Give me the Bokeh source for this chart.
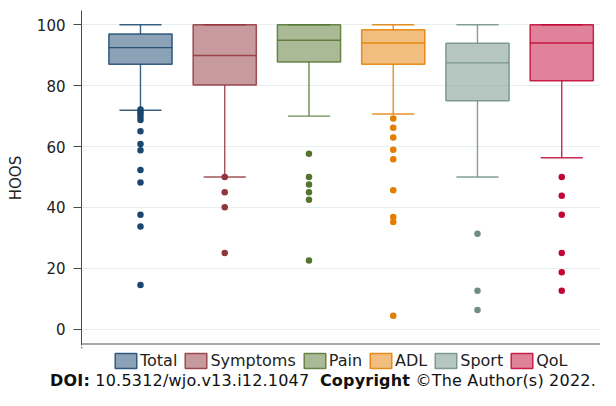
import numpy as np
from bokeh.plotting import figure
from bokeh.models import (Range1d, FixedTicker, Legend, LegendItem,
                          ColumnDataSource, Div, Span)
from bokeh.layouts import column
from bokeh.embed import file_html
from bokeh.resources import INLINE

# ---------------- data ----------------
categories = ["Total", "Symptoms", "Pain", "ADL", "Sport", "QoL"]
upper_whisker = [100, 100, 100, 100, 100, 100]
q3 = [97.0, 100, 100, 98.4, 93.9, 100]
median = [92.5, 89.9, 94.9, 94.0, 87.5, 94.0]
q1 = [87.0, 80.2, 87.8, 87.0, 75.0, 81.6]
lower_whisker = [71.9, 50.0, 70.0, 70.7, 50.0, 56.3]

total_outliers = [72.2, 71.5, 70.8, 69.8, 68.7, 65.0, 60.8, 58.8, 52.3, 48.2, 37.6, 33.7, 14.5]
symptoms_outliers = [50.0, 45.0, 40.0, 25.0]
pain_outliers = [57.6, 50.0, 47.5, 45.0, 42.5, 22.5]
adl_outliers = [69.2, 66.2, 63.0, 58.9, 55.8, 45.6, 36.8, 35.2, 4.4]
sport_outliers = [31.3, 12.6, 6.3]
qol_outliers = [50.0, 43.8, 37.6, 25.0, 18.7, 12.6]
outlier_lists = [total_outliers, symptoms_outliers, pain_outliers,
                 adl_outliers, sport_outliers, qol_outliers]

y_ticks = [0, 20, 40, 60, 80, 100]
colors = ["#1a476f", "#90353b", "#55752f", "#e37e00", "#6e8e84", "#c10534"]

FONT = "DejaVu Sans"
BOX_W = 0.75
CAP_W = 0.5
Y_START, Y_END = -5.4, 104.7

xs = np.arange(len(categories))

src = ColumnDataSource(dict(
    x=xs, q1=q1, q3=q3, med=median, lo=lower_whisker, hi=upper_whisker,
    color=colors, name=categories,
    bx0=xs - BOX_W / 2, bx1=xs + BOX_W / 2,
    cx0=xs - CAP_W / 2, cx1=xs + CAP_W / 2,
))

p = figure(width=600, height=347, output_backend="svg", toolbar_location=None,
           x_range=Range1d(-0.70, 5.46), y_range=Range1d(Y_START, Y_END),
           x_axis_location=None,
           min_border_left=81, min_border_right=0, min_border_top=10,
           min_border_bottom=2)
p.outline_line_color = None
p.background_fill_color = "white"

LINE = dict(line_color="color", line_width=1.4, line_alpha=0.85)
# whiskers
p.segment(x0="x", y0="q3", x1="x", y1="hi", source=src, **LINE)
p.segment(x0="x", y0="q1", x1="x", y1="lo", source=src, **LINE)
# caps
p.segment(x0="cx0", y0="hi", x1="cx1", y1="hi", source=src, **LINE)
p.segment(x0="cx0", y0="lo", x1="cx1", y1="lo", source=src, **LINE)
# boxes
p.vbar(x="x", bottom="q1", top="q3", width=BOX_W, source=src,
       fill_color="color", fill_alpha=0.5, line_color="color",
       line_width=1.5, line_alpha=0.85)
# medians
p.segment(x0="bx0", y0="med", x1="bx1", y1="med", source=src, **LINE)

# outliers
ox, oy, oc = [], [], []
for i, lst in enumerate(outlier_lists):
    ox += [i] * len(lst)
    oy += lst
    oc += [colors[i]] * len(lst)
p.scatter(x=ox, y=oy, color=oc, size=6.5, line_width=0)

# y axis
p.yaxis.ticker = FixedTicker(ticks=y_ticks)
p.yaxis.axis_label = "HOOS"
p.yaxis.axis_label_text_font = FONT
p.yaxis.axis_label_text_font_size = "15px"
p.yaxis.axis_label_text_font_style = "normal"
p.yaxis.axis_label_text_color = "#222222"
p.yaxis.axis_label_standoff = 9
p.yaxis.major_label_text_font = FONT
p.yaxis.major_label_text_font_size = "15px"
p.yaxis.major_label_text_color = "#222222"
p.yaxis.major_label_standoff = 8
p.yaxis.major_tick_out = 8
p.yaxis.major_tick_in = 0
p.yaxis.minor_tick_line_color = None
p.yaxis.axis_line_color = "#4a4a4a"
p.yaxis.major_tick_line_color = "#4a4a4a"

# bottom axis line, drawn just inside the lower edge of the plot area
p.add_layout(Span(location=-4.9, dimension="width",
                  line_color="#8c8c8c", line_width=1.6))

p.xgrid.visible = False
p.ygrid.grid_line_color = "#e6eef0"
p.ygrid.grid_line_width = 1

# legend strip: a small figure whose view range excludes the glyphs,
# so only the legend is visible
pl = figure(width=600, height=25, output_backend="svg", toolbar_location=None,
            x_range=Range1d(100, 101), y_range=Range1d(0, 1),
            x_axis_location=None, y_axis_location=None, min_border=0)
pl.outline_line_color = None
pl.grid.visible = False
pl.background_fill_alpha = 0
pl.border_fill_alpha = 0
leg_boxes = pl.vbar(x="x", bottom="q1", top="q3", width=BOX_W, source=src,
                    fill_color="color", fill_alpha=0.5, line_color="color",
                    line_width=1.5, line_alpha=0.85)
items = [LegendItem(label=c, renderers=[leg_boxes], index=i)
         for i, c in enumerate(categories)]
legend = Legend(items=items, orientation="horizontal", location=(31, 2),
                border_line_color=None, background_fill_alpha=0,
                padding=0, margin=0, spacing=5, label_standoff=1,
                glyph_width=27, glyph_height=19,
                label_text_font=FONT, label_text_font_size="16px",
                label_text_color="#222222")
pl.add_layout(legend)

# source line
doi = Div(text='<b>DOI:</b> 10.5312/wjo.v13.i12.1047&nbsp;&nbsp;<b>Copyright</b> '
               '\u00a9The Author(s) 2022.',
          width=600, height=18, margin=0,
          styles={"font-family": "DejaVu Sans", "font-size": "16px",
                  "line-height": "18px", "padding-left": "50px",
                  "letter-spacing": "0.2px",
                  "white-space": "nowrap", "color": "#111111"})

layout = column(p, pl, doi, spacing=0)
open("out.html", "w").write(file_html(layout, INLINE))
